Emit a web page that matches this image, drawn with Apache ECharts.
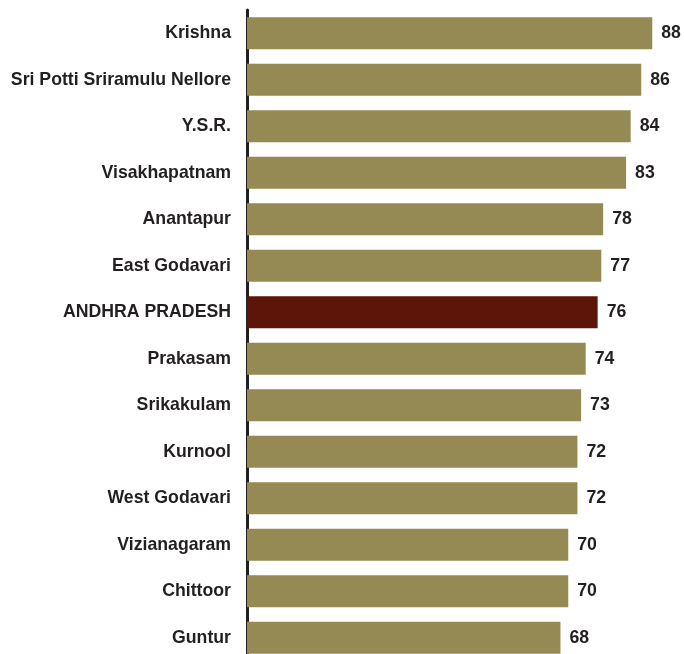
<!DOCTYPE html>
<html>
<head>
<meta charset="utf-8">
<script src="https://cdn.jsdelivr.net/npm/echarts@6/dist/echarts.min.js"></script>
<style>
html,body{margin:0;padding:0;background:#fff;}
#chart{width:684px;height:654px;}
</style>
</head>
<body>
<div id="chart"></div>
<script>
const categories = ["Krishna","Sri Potti Sriramulu Nellore","Y.S.R.","Visakhapatnam","Anantapur","East Godavari","ANDHRA PRADESH","Prakasam","Srikakulam","Kurnool","West Godavari","Vizianagaram","Chittoor","Guntur"];
const values = [88.3, 85.9, 83.6, 82.6, 77.6, 77.2, 76.4, 73.8, 72.8, 72.0, 72.0, 70.0, 70.0, 68.3];
const highlight = "ANDHRA PRADESH";
const barColor = "#968A54";
const highlightColor = "#5E1509";
const textColor = "#231F20";

const chart = echarts.init(document.getElementById('chart'), null, {renderer:'canvas'});
chart.setOption({
  animation:false,
  grid:{left:247, top:10, width:436, height:651, containLabel:false, outerBoundsMode:'none'},
  xAxis:{type:'value', min:0, max:95, show:true,
    axisLine:{show:false}, axisTick:{show:false}, axisLabel:{show:false}, splitLine:{show:false}},
  yAxis:{type:'category', data:categories, inverse:true,
    axisLine:{show:true, lineStyle:{color:textColor, width:3}},
    axisTick:{show:false},
    axisLabel:{color:textColor, fontFamily:'Liberation Sans, Arial, sans-serif', fontWeight:'bold', fontSize:17.7, margin:16}},
  series:[{type:'bar', barWidth:32,
    data:values.map((v,i)=>({value:v, itemStyle:{color: categories[i]===highlight?highlightColor:barColor}})),
    label:{show:true, position:'right', distance:9, color:textColor,
      fontFamily:'Liberation Sans, Arial, sans-serif', fontWeight:'bold', fontSize:17.7,
      formatter:p=>Math.round(p.value)}
  }]
});
</script>
</body>
</html>
